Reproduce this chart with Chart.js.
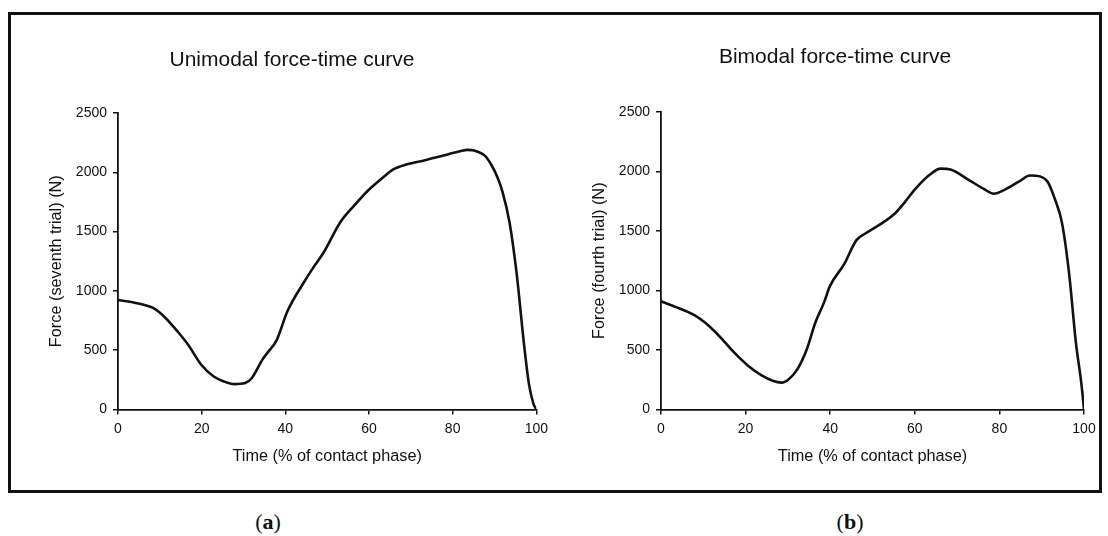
<!DOCTYPE html>
<html>
<head>
<meta charset="utf-8">
<script src="https://cdn.jsdelivr.net/npm/chart.js@4"></script>
<style>
  html, body { margin: 0; padding: 0; background: #fff; }
  body { width: 1108px; height: 536px; position: relative; overflow: hidden; }
  .frame {
    position: absolute; left: 8px; top: 12px; width: 1094px; height: 481px;
    border: 3px solid #111; box-sizing: border-box;
  }
  .panel { position: absolute; top: 0; width: 554px; height: 500px; }
  .tag {
    position: absolute; top: 509px; font-family: "Liberation Serif", "DejaVu Serif", serif;
    font-size: 22px; line-height: 26px; color: #111; transform: translateX(-50%);
  }
</style>
</head>
<body>
<div class="frame"></div>
<div class="panel" style="left:0"><canvas id="chart-a" width="554" height="500"></canvas></div>
<div class="panel" style="left:554px"><canvas id="chart-b" width="554" height="500"></canvas></div>
<div class="tag" style="left:268px">(<b>a</b>)</div>
<div class="tag" style="left:850px">(<b>b</b>)</div>

<script>
// ============================================================
// Data (time in % of contact, force in N)
// ============================================================
const timeA = [0, 5.9, 8.4, 11, 14.3, 16.9, 19.8, 22.8, 25.3, 27.8, 30.4, 32, 34.6, 35.8, 37.9,
  40.5, 44.7, 46.8, 49.3, 53.1, 56.5, 59.9, 63.2, 65.8, 69.1, 73.4, 77.6, 81.8, 83.5, 85.2,
  87.7, 89.4, 90.6, 91.9, 93.6, 95.3, 97, 98.2, 99.3, 100];
const forceA = [923, 885, 856, 784, 655, 539, 381, 280, 236, 213, 222, 265, 424, 481, 582,
  828, 1087, 1202, 1332, 1577, 1721, 1851, 1952, 2024, 2067, 2102, 2140, 2177, 2189, 2183,
  2140, 2053, 1966, 1837, 1577, 1145, 568, 222, 49, 0];

const timeB = [0, 3.6, 7.8, 10.4, 13.8, 17.1, 20.5, 23.9, 26.4, 28.5, 30.2, 32.3, 34.4, 36.5,
  38.6, 39.9, 43.3, 46.2, 48.4, 51.7, 55.1, 57.6, 60.2, 63.5, 66.1, 68.6, 72.8, 76.2, 78.7,
  81.3, 84.6, 87.2, 89.7, 91.4, 93.1, 94.8, 96.5, 98.1, 99.4, 100];
const forceB = [909, 860, 794, 730, 615, 485, 370, 283, 240, 225, 254, 341, 499, 730,
  904, 1034, 1221, 1423, 1481, 1553, 1640, 1741, 1856, 1972, 2024, 2015, 1928, 1856, 1813,
  1848, 1914, 1966, 1957, 1914, 1770, 1568, 1135, 557, 211, 0];

const xTicks = [0, 20, 40, 60, 80, 100];
const yTicks = [0, 500, 1000, 1500, 2000, 2500];

const FONT = 'Liberation Sans, Arial, sans-serif';
const INK = '#111';

// ============================================================
// One force-time panel
// ============================================================
function renderPanel(canvasId, cfg) {
  const ctx = document.getElementById(canvasId);
  const points = cfg.time.map((t, i) => ({ x: t, y: cfg.force[i] }));

  return new Chart(ctx, {
    type: 'line',
    data: {
      datasets: [{
        data: points,
        borderColor: INK,
        borderWidth: 2.6,
        pointRadius: 0,
        fill: false,
        tension: 0.4,
        cubicInterpolationMode: 'monotone'
      }]
    },
    options: {
      responsive: false,
      animation: false,
      layout: { padding: { left: cfg.padLeft, right: cfg.padRight, top: 0, bottom: 30 } },
      plugins: {
        legend: { display: false },
        tooltip: { enabled: false },
        title: {
          display: true,
          text: cfg.title,
          color: INK,
          font: { family: FONT, size: 21, weight: 'normal' },
          padding: { top: cfg.titleTop, bottom: cfg.titleBottom }
        }
      },
      scales: {
        x: {
          type: 'linear',
          min: 0, max: 100,
          afterBuildTicks: s => { s.ticks = xTicks.map(v => ({ value: v })); },
          afterFit: s => { s.height = 60.6; },
          ticks: { color: INK, font: { family: FONT, size: 14 }, padding: 6, maxRotation: 0,
            callback: v => String(v) },
          grid: { drawOnChartArea: false, tickLength: 5, color: INK, lineWidth: 1.5 },
          border: { color: INK, width: 1.8 },
          title: {
            display: true,
            text: 'Time (% of contact phase)',
            color: INK,
            font: { family: FONT, size: 16.3 }
          }
        },
        y: {
          min: 0, max: 2500,
          afterBuildTicks: s => { s.ticks = yTicks.map(v => ({ value: v })); },
          afterFit: s => { s.width = 75; },
          ticks: { color: INK, font: { family: FONT, size: 14 }, padding: 6,
            callback: v => String(v) },
          grid: { drawOnChartArea: false, tickLength: 5, color: INK, lineWidth: 1.5 },
          border: { color: INK, width: 1.8 },
          title: {
            display: true,
            text: cfg.yTitle,
            color: INK,
            font: { family: FONT, size: 16.3 }
          }
        }
      }
    }
  });
}

renderPanel('chart-a', {
  time: timeA, force: forceA,
  title: 'Unimodal force-time curve',
  yTitle: 'Force (seventh trial) (N)',
  padLeft: 43, padRight: 13, titleTop: 47.4, titleBottom: 40.4
});

renderPanel('chart-b', {
  time: timeB, force: forceB,
  title: 'Bimodal force-time curve',
  yTitle: 'Force (fourth trial) (N)',
  padLeft: 32, padRight: 24, titleTop: 44.4, titleBottom: 42.4
});
</script>
</body>
</html>
